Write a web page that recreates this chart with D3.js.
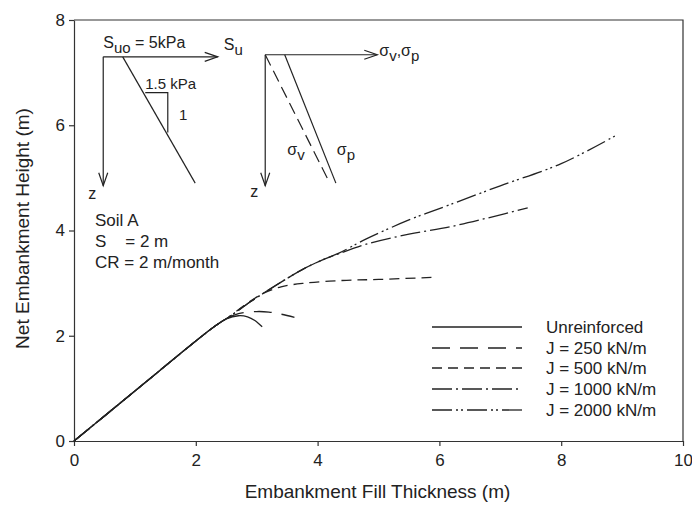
<!DOCTYPE html>
<html>
<head>
<meta charset="utf-8">
<script src="https://cdn.jsdelivr.net/npm/d3@7"></script>
<style>
  body { margin: 0; background: #fff; }
  text, tspan { font-family: Arial, "Liberation Sans", sans-serif; fill: #222; }
</style>
</head>
<body>
<div id="chart-area"></div>
<script>
// data (x = fill thickness, y = net height)
const unreinforced = [[0,0],[1,0.95],[2,1.9],[2.3,2.17],[2.5,2.32],[2.7,2.38],[2.85,2.36],[2.97,2.29],[3.09,2.17]];
const j250 = [[0,0],[1,0.95],[2,1.9],[2.3,2.17],[2.5,2.32],[2.7,2.42],[3.0,2.46],[3.2,2.45],[3.4,2.41],[3.62,2.35]];
const j500 = [[0,0],[1,0.95],[2,1.9],[2.3,2.17],[2.56,2.37],[2.8,2.58],[3.1,2.8],[3.4,2.93],[3.8,3.0],[4.4,3.05],[5.0,3.07],[5.9,3.11]];
const j1000 = [[0,0],[1,0.95],[2,1.9],[2.3,2.17],[2.56,2.37],[2.89,2.64],[3.14,2.83],[3.5,3.09],[3.8,3.29],[4.1,3.45],[4.35,3.56],[4.8,3.74],[5.5,3.93],[6.17,4.07],[6.8,4.24],[7.45,4.43]];
const j2000 = [[0,0],[1,0.95],[2,1.9],[2.3,2.17],[2.56,2.37],[2.89,2.64],[3.14,2.83],[3.5,3.09],[3.8,3.29],[4.1,3.45],[4.35,3.57],[4.8,3.84],[5.5,4.2],[6.17,4.49],[7,4.85],[8,5.27],[8.92,5.82]];

const seriesNames = ["Unreinforced", "J = 250 kN/m", "J = 500 kN/m", "J = 1000 kN/m", "J = 2000 kN/m"];
const seriesData = [unreinforced, j250, j500, j1000, j2000];
const dashes = [null, "18,10", "10,6", "20,4,2,4", "20,4,2,3,2,4"];

const xTicks = [0, 2, 4, 6, 8, 10];
const yTicks = [0, 2, 4, 6, 8];

const margin = { left: 74, right: 9, top: 20, bottom: 65 };
const width = 692 - margin.left - margin.right;
const height = 506 - margin.top - margin.bottom;

const svg = d3.select("#chart-area")
	.append("svg")
	.attr("width", 692)
	.attr("height", 506);

const g = svg.append("g")
	.attr("transform", `translate(${margin.left}, ${margin.top})`);

const x = d3.scaleLinear().domain([0, 10]).range([0, width]);
const y = d3.scaleLinear().domain([0, 8]).range([height, 0]);

// frame (top + right)
g.append("path")
	.attr("d", `M0,0 H${width} V${height}`)
	.attr("fill", "none")
	.attr("stroke", "#333")
	.attr("stroke-width", 1.2);

const xAxisCall = d3.axisBottom(x).tickValues(xTicks).tickSize(5).tickSizeOuter(0);
const xAxis = g.append("g")
	.attr("transform", `translate(0, ${height})`)
	.call(xAxisCall);
xAxis.selectAll("text")
	.attr("y", 13)
	.attr("font-size", "17px")
	.attr("font-family", "Arial, 'Liberation Sans', sans-serif")
	.attr("fill", "#222");

const yAxisCall = d3.axisLeft(y).tickValues(yTicks).tickSize(5).tickSizeOuter(0);
const yAxis = g.append("g").call(yAxisCall);
yAxis.selectAll("text")
	.attr("x", -9)
	.attr("font-size", "17px")
	.attr("font-family", "Arial, 'Liberation Sans', sans-serif")
	.attr("fill", "#222");

g.selectAll(".domain, .tick line").attr("stroke", "#333").attr("stroke-width", 1.2);

// axis labels
g.append("text")
	.attr("x", x(5) - 1)
	.attr("y", height + 57)
	.attr("font-size", "19px")
	.attr("text-anchor", "middle")
	.text("Embankment Fill Thickness (m)");

g.append("text")
	.attr("transform", "rotate(-90)")
	.attr("x", -(height / 2) + 2)
	.attr("y", -45)
	.attr("font-size", "19px")
	.attr("text-anchor", "middle")
	.text("Net Embankment Height (m)");

// curves
const line = d3.line()
	.x(d => x(d[0]))
	.y(d => y(d[1]))
	.curve(d3.curveCatmullRom.alpha(0.5));

g.selectAll(".curve")
	.data(seriesData)
	.enter()
	.append("path")
	.attr("class", "curve")
	.attr("d", line)
	.attr("fill", "none")
	.attr("stroke", "#222")
	.attr("stroke-width", 1.3)
	.attr("stroke-dasharray", (d, i) => dashes[i]);

// legend
const legend = g.append("g");
const legendY = [307, 328, 348, 369, 390];
seriesNames.forEach((name, i) => {
	legend.append("line")
		.attr("x1", 358).attr("x2", 448)
		.attr("y1", legendY[i]).attr("y2", legendY[i])
		.attr("stroke", "#222")
		.attr("stroke-width", 1.3)
		.attr("stroke-dasharray", dashes[i]);
	legend.append("text")
		.attr("x", 472)
		.attr("y", legendY[i] + 6)
		.attr("font-size", "17px")
		.text(name);
});

// inset sketches (data coords)
const ink = g.append("g").attr("stroke", "#222").attr("stroke-width", 1.2).attr("fill", "none");

function arrow(x0, y0, x1, y1) {
	const px0 = x(x0), py0 = y(y0), px1 = x(x1), py1 = y(y1);
	ink.append("line").attr("x1", px0).attr("y1", py0).attr("x2", px1).attr("y2", py1);
	const a = Math.atan2(py1 - py0, px1 - px0);
	const L = 13, W = 4.5;
	const bx = px1 - L * Math.cos(a), by = py1 - L * Math.sin(a);
	const nx = -Math.sin(a) * W, ny = Math.cos(a) * W;
	ink.append("path").attr("d", `M${bx + nx},${by + ny} L${px1},${py1} L${bx - nx},${by - ny}`);
}
function seg(x0, y0, x1, y1, dash) {
	ink.append("line")
		.attr("x1", x(x0)).attr("y1", y(y0))
		.attr("x2", x(x1)).attr("y2", y(y1))
		.attr("stroke-dasharray", dash || null);
}

// left sketch: Su profile
arrow(0.48, 7.30, 2.36, 7.30);
arrow(0.48, 7.30, 0.48, 4.85);
seg(0.80, 7.30, 1.99, 4.90);
ink.append("path")
	.attr("d", `M${x(1.17)},${y(6.62)} H${x(1.54)} V${y(5.86)}`);

// right sketch: stresses
arrow(3.14, 7.34, 4.98, 7.34);
arrow(3.14, 7.34, 3.14, 4.85);
seg(3.14, 7.34, 4.20, 4.90, "12,6");
seg(3.46, 7.34, 4.30, 4.90);

function label(px, py, parts, size) {
	const t = g.append("text").attr("x", px).attr("y", py).attr("font-size", size + "px");
	parts.forEach(p => {
		t.append("tspan")
			.attr("dy", p.sub ? 5 : (p.up ? -5 : null))
			.attr("font-size", p.sub ? (size - 1) + "px" : null)
			.attr("fill", "#222")
			.text(p.t);
	});
	return t;
}

label(x(0.48), y(7.30) - 9, [{ t: "S" }, { t: "uo", sub: true }, { t: " = 5kPa", up: true }], 16);
label(x(1.17), y(6.62) - 4, [{ t: "1.5 kPa" }], 15);
label(x(1.66) + 4, y(6.24) + 7, [{ t: "1" }], 15);
label(x(0.48) - 15, y(4.85) + 13, [{ t: "z" }], 16);
label(x(2.36) + 6, y(7.30) - 7, [{ t: "S" }, { t: "u", sub: true }], 16);
label(x(3.14) - 15, y(4.85) + 11, [{ t: "z" }], 16);
label(x(4.98) + 2, y(7.34) + 1, [{ t: "σ" }, { t: "v", sub: true }, { t: ",σ", up: true }, { t: "p", sub: true }], 16);
label(x(3.52) - 1, y(5.38) - 3, [{ t: "σ" }, { t: "v", sub: true }], 16);
label(x(4.30) + 1, y(5.38) - 3, [{ t: "σ" }, { t: "p", sub: true }], 16);

// soil info
const info = ["Soil A", "S\u00a0\u00a0\u00a0\u00a0= 2 m", "CR = 2 m/month"];
info.forEach((s, i) => {
	g.append("text")
		.attr("x", 21)
		.attr("y", 206 + i * 21)
		.attr("font-size", "17px")
		.text(s);
});
</script>
</body>
</html>
